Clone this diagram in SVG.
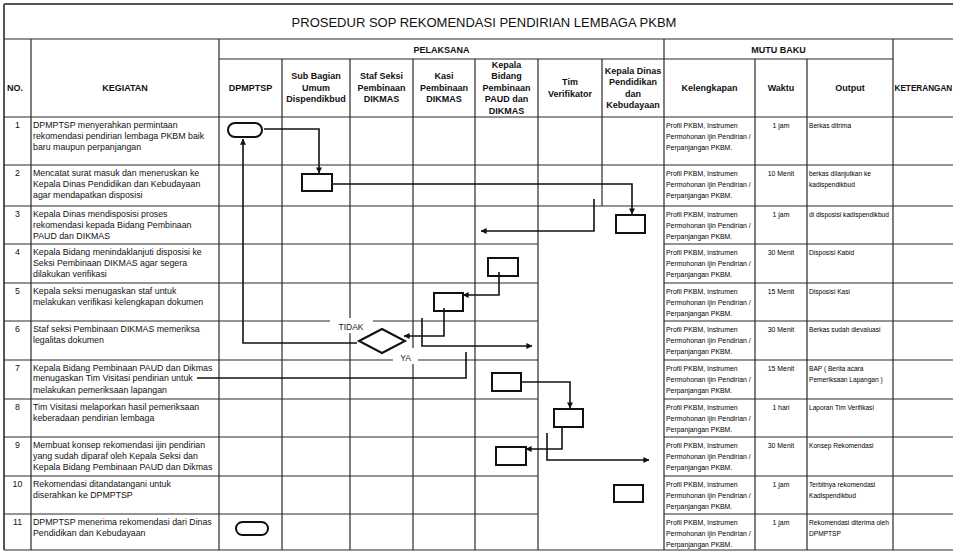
<svg xmlns="http://www.w3.org/2000/svg" width="953" height="553" viewBox="0 0 953 553">
<style>
.g{stroke:#2a2a2a;stroke-width:1.2;fill:none}
.ob{stroke:#555;stroke-width:2;fill:none}
.t{font-family:"Liberation Sans",Arial,sans-serif;fill:#111}
.ttl{font-size:13px;text-anchor:middle}
.h{font-size:9px;font-weight:bold;text-anchor:middle}
.k{font-size:8.8px}
.n{font-size:8.8px;text-anchor:middle}
.m{font-size:6.9px;fill:#000}
.o{font-size:6.6px;fill:#000}
.w{font-size:6.9px;text-anchor:middle;fill:#000}
.lb{font-size:8.5px;text-anchor:middle;fill:#222}
.node{fill:#fff;stroke:#111;stroke-width:2}
.c{fill:none;stroke:#111;stroke-width:1.6}
</style>
<defs>
<marker id="ar" viewBox="0 0 8 8" refX="7.5" refY="4" markerWidth="6" markerHeight="6" markerUnits="userSpaceOnUse" orient="auto">
<path d="M0,0 L8,4 L0,8 z" fill="#111"/>
</marker>
</defs>
<rect width="953" height="553" fill="#fff"/>
<g id="table">
<path class="ob" d="M4,4 H953 M4,4 V550"/>
<path class="g" d="M4,39 H953 M219,59 H893 M4,117 H953 M4,165 H953 M4,206 H953
M4,244 H538 M664,244 H953 M4,283 H538 M664,283 H953 M4,321 H538 M664,321 H953
M4,360 H538 M664,360 H953 M4,399 H538 M664,399 H953 M4,437 H538 M664,437 H953
M4,476 H538 M664,476 H953 M4,514 H538 M664,514 H953 M4,550 H953"/>
<path class="g" d="M31,39 V550 M219,39 V550 M664,39 V550 M893,39 V550
M282,59 V550 M350,59 V550 M413,59 V550 M475,59 V550 M538,59 V550 M755,59 V550 M807,59 V550 M602,59 V206"/>
</g>
<g id="header" class="t">
<text class="ttl" x="484" y="27">PROSEDUR SOP REKOMENDASI PENDIRIAN LEMBAGA PKBM</text>
<text class="h" x="441.5" y="52.5">PELAKSANA</text>
<text class="h" x="778.5" y="52.5">MUTU BAKU</text>
<text class="h" x="7" y="91" style="text-anchor:start">NO.</text>
<text class="h" x="125" y="91">KEGIATAN</text>
<text class="h" x="250.5" y="91">DPMPTSP</text>
<text class="h" x="316" y="79">Sub Bagian</text>
<text class="h" x="316" y="90.5">Umum</text>
<text class="h" x="316" y="102">Dispendikbud</text>
<text class="h" x="381.5" y="79">Staf Seksi</text>
<text class="h" x="381.5" y="90.5">Pembinaan</text>
<text class="h" x="381.5" y="102">DIKMAS</text>
<text class="h" x="444" y="79">Kasi</text>
<text class="h" x="444" y="90.5">Pembinaan</text>
<text class="h" x="444" y="102">DIKMAS</text>
<text class="h" x="506.5" y="67.5">Kepala</text>
<text class="h" x="506.5" y="79">Bidang</text>
<text class="h" x="506.5" y="90.5">Pembinaan</text>
<text class="h" x="506.5" y="102">PAUD dan</text>
<text class="h" x="506.5" y="113.5">DIKMAS</text>
<text class="h" x="570" y="85">Tim</text>
<text class="h" x="570" y="96.5">Verifikator</text>
<text class="h" x="633" y="73.5">Kepala Dinas</text>
<text class="h" x="633" y="85">Pendidikan</text>
<text class="h" x="633" y="96.5">dan</text>
<text class="h" x="633" y="108">Kebudayaan</text>
<text class="h" x="709.5" y="91">Kelengkapan</text>
<text class="h" x="781" y="91">Waktu</text>
<text class="h" x="850" y="91">Output</text>
<text class="h" x="894.5" y="91" style="text-anchor:start;font-size:8.2px">KETERANGAN</text>
</g>
<g id="rows" class="t">
<text class="n" x="17.5" y="128">1</text>
<text class="k" x="33" y="128">DPMPTSP menyerahkan permintaan</text>
<text class="k" x="33" y="139">rekomendasi pendirian lembaga PKBM baik</text>
<text class="k" x="33" y="150">baru maupun perpanjangan</text>
<text class="n" x="17.5" y="176">2</text>
<text class="k" x="33" y="176">Mencatat surat masuk dan meneruskan ke</text>
<text class="k" x="33" y="187">Kepala Dinas Pendidikan dan Kebudayaan</text>
<text class="k" x="33" y="198">agar mendapatkan disposisi</text>
<text class="n" x="17.5" y="217">3</text>
<text class="k" x="33" y="217">Kepala Dinas mendisposisi proses</text>
<text class="k" x="33" y="228">rekomendasi kepada Bidang Pembinaan</text>
<text class="k" x="33" y="239">PAUD dan DIKMAS</text>
<text class="n" x="17.5" y="255">4</text>
<text class="k" x="33" y="255">Kepala Bidang menindaklanjuti disposisi ke</text>
<text class="k" x="33" y="266">Seksi Pembinaan DIKMAS agar segera</text>
<text class="k" x="33" y="277">dilakukan verifikasi</text>
<text class="n" x="17.5" y="294">5</text>
<text class="k" x="33" y="294">Kepala seksi menugaskan staf untuk</text>
<text class="k" x="33" y="305">melakukan verifikasi kelengkapan dokumen</text>
<text class="n" x="17.5" y="332">6</text>
<text class="k" x="33" y="332">Staf seksi Pembinaan DIKMAS memeriksa</text>
<text class="k" x="33" y="343">legalitas dokumen</text>
<text class="n" x="17.5" y="371">7</text>
<text class="k" x="33" y="371">Kepala Bidang Pembinaan PAUD dan Dikmas</text>
<text class="k" x="33" y="381">menugaskan Tim Visitasi pendirian untuk</text>
<text class="k" x="33" y="393">melakukan pemeriksaan lapangan</text>
<text class="n" x="17.5" y="410">8</text>
<text class="k" x="33" y="410">Tim Visitasi melaporkan hasil pemeriksaan</text>
<text class="k" x="33" y="421">keberadaan pendirian lembaga</text>
<text class="n" x="17.5" y="448">9</text>
<text class="k" x="33" y="448">Membuat konsep rekomendasi ijin pendirian</text>
<text class="k" x="33" y="459">yang sudah diparaf oleh Kepala Seksi dan</text>
<text class="k" x="33" y="470">Kepala Bidang Pembinaan PAUD dan Dikmas</text>
<text class="n" x="17.5" y="487">10</text>
<text class="k" x="33" y="487">Rekomendasi ditandatangani untuk</text>
<text class="k" x="33" y="498">diserahkan ke DPMPTSP</text>
<text class="n" x="17.5" y="525">11</text>
<text class="k" x="33" y="525">DPMPTSP menerima rekomendasi dari Dinas</text>
<text class="k" x="33" y="536">Pendidikan dan Kebudayaan</text>
</g>
<g id="mutu" class="t">
<g class="m">
<text x="666" y="127.5">Profil PKBM, Instrumen</text><text x="666" y="138.5">Permohonan ijin Pendirian /</text><text x="666" y="149.5">Perpanjangan PKBM.</text>
<text x="666" y="175.5">Profil PKBM, Instrumen</text><text x="666" y="186.5">Permohonan ijin Pendirian /</text><text x="666" y="197.5">Perpanjangan PKBM.</text>
<text x="666" y="216.5">Profil PKBM, Instrumen</text><text x="666" y="227.5">Permohonan ijin Pendirian /</text><text x="666" y="238.5">Perpanjangan PKBM.</text>
<text x="666" y="254.5">Profil PKBM, Instrumen</text><text x="666" y="265.5">Permohonan ijin Pendirian /</text><text x="666" y="276.5">Perpanjangan PKBM.</text>
<text x="666" y="293.5">Profil PKBM, Instrumen</text><text x="666" y="304.5">Permohonan ijin Pendirian /</text><text x="666" y="315.5">Perpanjangan PKBM.</text>
<text x="666" y="331.5">Profil PKBM, Instrumen</text><text x="666" y="342.5">Permohonan ijin Pendirian /</text><text x="666" y="353.5">Perpanjangan PKBM.</text>
<text x="666" y="370.5">Profil PKBM, Instrumen</text><text x="666" y="381.5">Permohonan ijin Pendirian /</text><text x="666" y="392.5">Perpanjangan PKBM.</text>
<text x="666" y="409.5">Profil PKBM, Instrumen</text><text x="666" y="420.5">Permohonan ijin Pendirian /</text><text x="666" y="431.5">Perpanjangan PKBM.</text>
<text x="666" y="447.5">Profil PKBM, Instrumen</text><text x="666" y="458.5">Permohonan ijin Pendirian /</text><text x="666" y="469.5">Perpanjangan PKBM.</text>
<text x="666" y="486.5">Profil PKBM, Instrumen</text><text x="666" y="497.5">Permohonan ijin Pendirian /</text><text x="666" y="508.5">Perpanjangan PKBM.</text>
<text x="666" y="524.5">Profil PKBM, Instrumen</text><text x="666" y="535.5">Permohonan ijin Pendirian /</text><text x="666" y="546.5">Perpanjangan PKBM.</text>
</g>
<g class="w">
<text x="781" y="127.5">1 jam</text>
<text x="781" y="175.5">10 Menit</text>
<text x="781" y="216.5">1 jam</text>
<text x="781" y="254.5">30 Menit</text>
<text x="781" y="293.5">15 Menit</text>
<text x="781" y="331.5">30 Menit</text>
<text x="781" y="370.5">15 Menit</text>
<text x="781" y="409.5">1 hari</text>
<text x="781" y="447.5">30 Menit</text>
<text x="781" y="486.5">1 jam</text>
<text x="781" y="524.5">1 jam</text>
</g>
<g class="o">
<text x="809" y="127.5">Berkas ditrima</text>
<text x="809" y="175.5">berkas dilanjutkan ke</text><text x="809" y="186.5">kadispendikbud</text>
<text x="809" y="216.5">di disposisi kadispendikbud</text>
<text x="809" y="254.5">Disposisi Kabid</text>
<text x="809" y="293.5">Disposisi Kasi</text>
<text x="809" y="331.5">Berkas sudah dievaluasi</text>
<text x="809" y="370.5">BAP ( Berita acara</text><text x="809" y="381.5">Pemeriksaan Lapangan )</text>
<text x="809" y="409.5">Laporan Tim Verifikasi</text>
<text x="809" y="447.5">Konsep Rekomendasi</text>
<text x="809" y="486.5">Terbitnya rekomendasi</text><text x="809" y="497.5">Kadispendikbud</text>
<text x="809" y="524.5">Rekomendasi diterima oleh</text><text x="809" y="535.5">DPMPTSP</text>
</g>
</g>
<g id="labels" class="t">
<rect x="330" y="318" width="43" height="15" fill="#fff"/>
<text class="lb" x="351" y="330">TIDAK</text>
<rect x="393" y="348" width="25" height="16" fill="#fff"/>
<text class="lb" x="405.5" y="361">YA</text>
</g>
<g id="connectors">
<path class="c" d="M264,129 H319 V173" marker-end="url(#ar)"/>
<path class="c" d="M332,184 H632 V214" marker-end="url(#ar)"/>
<path class="c" d="M594,199 V231 H481" marker-end="url(#ar)"/>
<path class="c" d="M499,272 V295 H463" marker-end="url(#ar)"/>
<path class="c" d="M444,308 V336 H404" marker-end="url(#ar)"/>
<path class="c" d="M357,343 H243 V139" marker-end="url(#ar)"/>
<path class="c" d="M422,318 V346 H532" marker-end="url(#ar)"/>
<path class="c" d="M466,352 V378 H197"/>
<path class="c" d="M522,382 H570 V408" marker-end="url(#ar)"/>
<path class="c" d="M562,427 V449 H526" marker-end="url(#ar)"/>
<path class="c" d="M547,433 V460 H649" marker-end="url(#ar)"/>
</g>
<g id="start"><rect class="node" x="228" y="123" width="34" height="14" rx="7"/></g>
<g id="step2"><rect class="node" x="302" y="174" width="30" height="17"/></g>
<g id="step3"><rect class="node" x="616" y="215" width="29" height="18"/></g>
<g id="step4"><rect class="node" x="488" y="258" width="30" height="18" style="fill:none"/></g>
<g id="step5"><rect class="node" x="434" y="293" width="29" height="18" style="fill:none"/></g>
<g id="decision"><polygon class="node" points="359,341 382,329 405,341 382,353"/></g>
<g id="step7"><rect class="node" x="492" y="373" width="29" height="18"/></g>
<g id="step8"><rect class="node" x="554" y="409" width="29" height="18"/></g>
<g id="step9"><rect class="node" x="496" y="447" width="30" height="18"/></g>
<g id="step10"><rect class="node" x="614" y="485" width="29" height="17"/></g>
<g id="end"><rect class="node" x="236" y="522" width="32" height="13" rx="6.5"/></g>
</svg>
